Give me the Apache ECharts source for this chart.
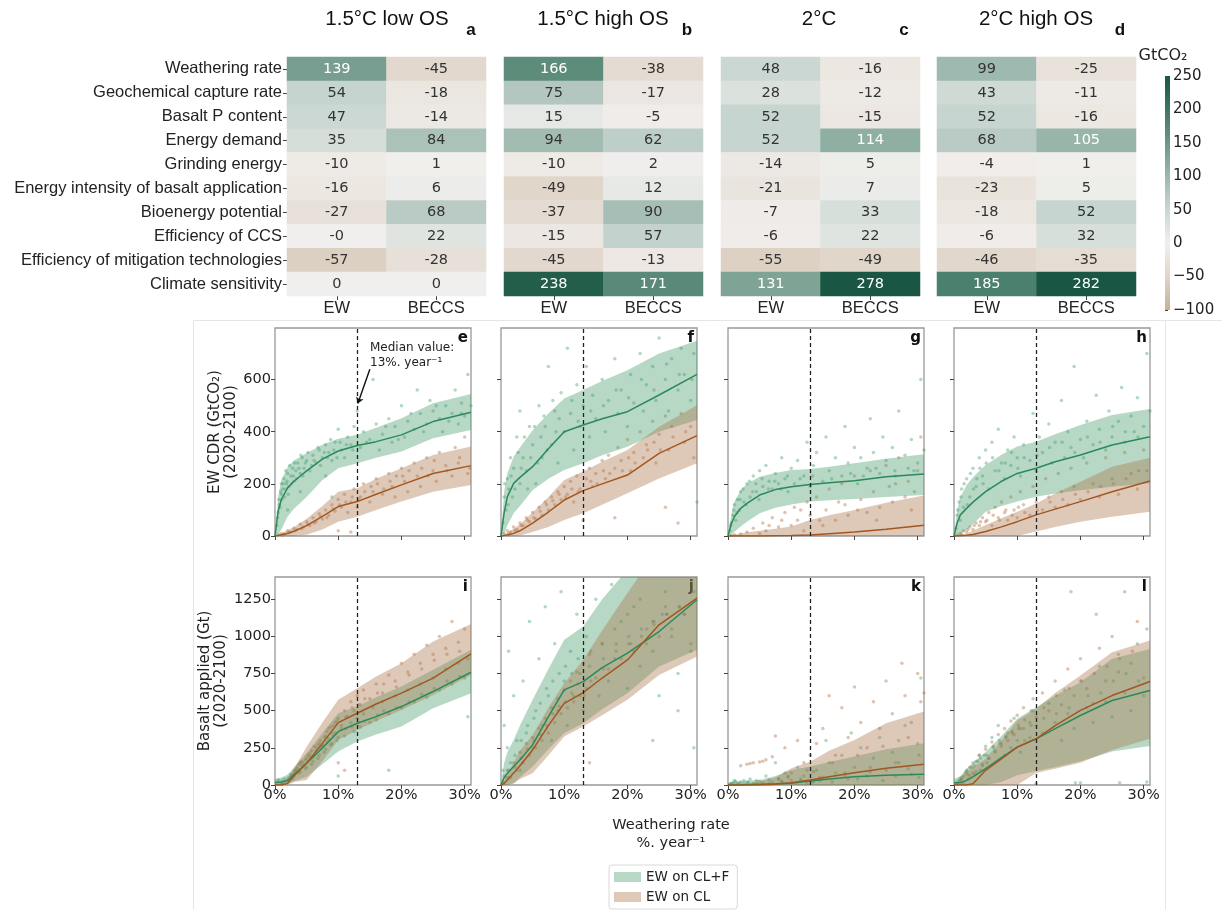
<!DOCTYPE html>
<html><head><meta charset="utf-8">
<script src="https://cdn.jsdelivr.net/npm/echarts@6/dist/echarts.min.js"></script>
<style>html,body{margin:0;padding:0;background:#fff}#c{width:1222px;height:910px}</style>
</head><body><div id="c"></div>
<script>
// ---------------- DATA ----------------
const ROW_LABELS = ['Weathering rate','Geochemical capture rate','Basalt P content','Energy demand','Grinding energy','Energy intensity of basalt application','Bioenergy potential','Efficiency of CCS','Efficiency of mitigation technologies','Climate sensitivity'];
const COL_LABELS = ['EW','BECCS'];
const SCENARIOS = ['1.5°C low OS','1.5°C high OS','2°C','2°C high OS'];
const HEAT_LETTERS = ['a','b','c','d'];
const A_EW = [139,54,47,35,-10,-16,-27,-0,-57,0];
const A_BECCS = [-45,-18,-14,84,1,6,68,22,-28,0];
const B_EW = [166,75,15,94,-10,-49,-37,-15,-45,238];
const B_BECCS = [-38,-17,-5,62,2,12,90,57,-13,171];
const C_EW = [48,28,52,52,-14,-21,-7,-6,-55,131];
const C_BECCS = [-16,-12,-15,114,5,7,33,22,-49,278];
const D_EW = [99,43,52,68,-4,-23,-18,-6,-46,185];
const D_BECCS = [-25,-11,-16,105,1,5,52,32,-35,282];
const CBAR_TICKS = [-100,-50,0,50,100,150,200,250];

const CURVE_X = [0,0.5,1,2,3,5,7.5,10,13,16,20,25,31];
const E_G_LO  = [0,5,25,75,105,150,215,260,279,300,324,375,407];
const E_G_MED = [0,95,140,185,210,250,295,326,347,362,388,439,475];
const E_G_HI  = [0,150,215,265,290,318,350,373,388,415,452,509,545];
const E_B_LO  = [0,0,0,0,0,5,25,55,74,100,132,170,196];
const E_B_MED = [0,2,5,10,18,40,75,113,132,160,196,240,270];
const E_B_HI  = [0,5,10,22,35,66,115,170,183,220,260,311,343];
const F_G_LO  = [0,10,40,87,115,176,220,253,279,310,342,400,445];
const F_G_MED = [0,90,150,202,225,266,335,400,426,450,477,541,620];
const F_G_HI  = [0,170,240,304,340,406,470,528,560,595,636,700,749];
const F_B_LO  = [0,0,0,0,2,15,35,61,87,120,164,221,279];
const F_B_MED = [0,2,4,10,20,49,92,138,174,200,234,317,385];
const F_B_HI  = [0,6,12,28,45,90,150,215,247,285,330,419,502];
const G_G_LO  = [0,5,15,36,55,87,108,121,132,137,142,150,157];
const G_G_MED = [0,45,74,106,125,157,178,189,198,204,212,227,238];
const G_G_HI  = [0,80,130,176,200,227,242,253,257,266,279,296,314];
const G_B_LO  = [0,0,0,0,0,0,0,0,0,0,0,0,0];
const G_B_MED = [0,0,0,0,0,0,1,2,4,9,15,26,41];
const G_B_HI  = [0,3,5,10,14,20,28,36,61,80,100,128,155];
const H_G_LO  = [0,0,5,25,45,93,115,132,151,163,176,189,202];
const H_G_MED = [0,50,81,106,130,170,210,240,260,285,311,349,381];
const H_G_HI  = [0,100,150,196,225,272,312,343,362,390,426,464,487];
const H_B_LO  = [0,0,0,0,0,0,0,0,17,35,55,74,93];
const H_B_MED = [0,0,1,3,6,17,35,55,81,103,132,170,211];
const H_B_HI  = [0,2,5,10,20,42,68,93,125,163,208,266,300];
const I_G_LO  = [0,0,0,5,25,56,140,225,292,340,393,517,618];
const I_G_MED = [15,18,20,30,70,146,250,359,416,460,528,629,759];
const I_G_HI  = [40,45,50,70,120,213,350,483,528,590,663,775,910];
const I_B_LO  = [0,0,0,0,20,34,160,303,371,430,505,606,741];
const I_B_MED = [0,0,0,11,60,146,280,420,483,545,618,719,883];
const I_B_HI  = [0,5,10,40,110,258,420,573,651,730,820,966,1083];
const J_G_LO  = [0,0,0,11,50,124,240,348,416,510,618,797,910];
const J_G_MED = [0,50,79,124,170,270,460,640,696,790,887,1033,1247];
const J_G_HI  = [0,150,220,303,400,573,780,977,1067,1250,1450,1650,1900];
const J_B_LO  = [0,0,0,10,40,79,200,326,393,470,573,741,865];
const J_B_MED = [0,10,34,80,130,236,400,550,622,720,842,1078,1258];
const J_B_HI  = [0,30,70,150,230,337,520,685,842,1040,1292,1600,1900];
const K_G_LO  = [0,0,0,0,0,0,0,0,0,0,0,0,0];
const K_G_MED = [0,0,0,0,2,5,8,12,27,40,56,65,72];
const K_G_HI  = [15,20,25,25,30,34,60,101,124,155,191,240,281];
const K_B_LO  = [0,0,0,0,0,0,0,0,0,0,0,0,0];
const K_B_MED = [0,0,0,0,0,0,5,16,34,55,83,112,139];
const K_B_HI  = [0,2,4,8,12,22,50,112,157,230,303,416,494];
const L_G_LO  = [0,0,0,0,0,0,20,65,95,120,160,225,262];
const L_G_MED = [15,15,15,31,55,110,185,255,311,380,468,569,636];
const L_G_HI  = [40,50,60,110,150,222,330,446,524,600,692,849,916];
const L_B_LO  = [0,0,0,0,0,0,0,0,80,110,150,235,311];
const L_B_MED = [0,0,0,0,9,99,175,255,311,400,502,602,697];
const L_B_HI  = [0,20,40,87,120,177,300,434,513,620,737,894,972];

const E_G_PTS = [[0.3,40],[0.5,90],[0.6,140],[0.8,110],[1,160],[1,200],[1.2,180],[1.4,220],[1.5,150],[1.8,200],[2,240],[2,100],[2.2,190],[2.5,230],[2.8,260],[3,210],[3.3,250],[3.6,280],[4,240],[4,170],[4.3,300],[4.6,260],[5,290],[5.5,250],[6,310],[6.5,280],[7,330],[7.5,300],[8,350],[8,230],[8.5,320],[9,290],[9,150],[9.5,360],[10,410],[10.5,330],[11,300],[11.5,380],[12,350],[12.5,420],[13,480],[13.5,340],[14,400],[15,370],[15.5,600],[16,430],[16.5,330],[17,390],[18,450],[18.5,360],[19,420],[20,500],[20.5,380],[21,440],[22,410],[22.5,560],[23,470],[24,430],[24.5,520],[25,480],[26,450],[26.5,400],[27,500],[28,470],[28.5,560],[29,430],[29.5,510],[30,460],[30.5,620],
  [0.4,70],[0.7,120],[0.9,170],[1.1,140],[1.3,200],[1.6,180],[1.7,250],[1.9,210],[2.1,160],[2.3,270],[2.6,200],[2.9,230],[3.1,280],[3.4,220],[3.8,260],[4.1,310],[4.4,230],[4.8,280],[5.2,320],[5.8,270],[6.2,290],[6.8,340],[7.2,270],[7.8,320],[8.3,300],[8.8,370],[9.3,330],[9.8,300],[10.3,360],[11.3,350],[12.3,330],[14.5,360],[17.5,420],[19.5,370],[21.5,470],[23.5,400],[25.5,500],[27.5,440],[29.5,470],[31,500]];
const E_B_PTS = [[0.5,5],[1,10],[1.5,8],[2,20],[2.5,15],[3,30],[3.5,25],[4,45],[4.5,35],[5,55],[5.5,40],[6,70],[6.5,55],[7,85],[7.5,65],[8,100],[8.5,80],[9,120],[9.5,95],[10,140],[10,20],[10.5,110],[11,160],[11.5,90],[12,130],[12,15],[12.5,180],[13,110],[13.5,150],[14,200],[15,130],[15.5,170],[16,220],[17,160],[18,240],[18.5,190],[19,150],[20,260],[20.5,210],[21,170],[22,280],[22.5,230],[23,190],[24,300],[25,250],[25.5,210],[26,320],[27,270],[28,230],[28.5,340],[29,280],[30,380],[30.5,240],
  [1.2,3],[2.2,12],[3.2,20],[4.2,28],[5.2,45],[6.2,50],[7.2,75],[8.2,70],[9.2,105],[10.2,120],[11.2,130],[12.2,150],[13.2,140],[14.2,170],[15.2,190],[16.2,200],[17.2,180],[18.2,210],[19.2,230],[20.2,230],[21.2,250],[23.2,260],[24.2,230],[25.2,290],[27.2,250],[29.2,300],[30.8,260]];
const F_G_PTS = [[0.3,50],[0.5,150],[0.8,100],[1,220],[1.2,180],[1.5,300],[1.8,150],[2,260],[2.5,380],[3,200],[3,480],[3.5,300],[4,250],[4.5,420],[5,350],[5.5,200],[6,500],[6.5,300],[7,420],[7.5,650],[8,350],[8.5,480],[9,280],[9.5,550],[10,400],[10.5,720],[11,470],[11.5,330],[12,580],[12.5,420],[13,500],[13.5,650],[14,380],[14.5,540],[15,450],[16,600],[16.5,400],[17,520],[18,680],[18.5,470],[19,560],[20,420],[20.5,620],[21,510],[22,700],[22.5,480],[23,580],[24,650],[24.5,520],[25,760],[26,600],[26.5,480],[27,680],[28,560],[28.5,720],[29,620],[30,520],[30.5,700],[31,130],
  [0.6,200],[1.1,120],[1.6,230],[2.2,180],[2.7,320],[3.2,260],[3.7,380],[4.2,180],[4.7,300],[5.3,420],[5.8,280],[6.3,380],[6.8,460],[7.3,330],[8.2,520],[8.7,400],[9.2,450],[11.2,520],[12.2,440],[14.2,480],[16.2,500],[18.2,560],[20.2,530],[22.2,600],[24.2,560],[26.2,660],[28.2,620],[30.2,600]];
const F_B_PTS = [[0.5,10],[1,20],[1.5,15],[2,35],[2.5,25],[3,50],[3.5,40],[4,70],[4.5,55],[5,90],[5.5,65],[6,110],[6.5,80],[7,130],[7.5,100],[8,150],[8.5,120],[9,170],[9.5,140],[10,190],[10.5,160],[11,210],[11.5,130],[12,230],[12.5,180],[13,60],[13.5,220],[14,260],[14.5,190],[15,240],[16,290],[16.5,220],[17,310],[18,260],[18,70],[18.5,340],[19,290],[20,370],[20.5,250],[21,320],[22,400],[22.5,300],[23,350],[24,440],[24.5,280],[25,390],[26,460],[26,110],[26.5,330],[27,420],[28,50],[28.5,470],[29,360],[30,420],[30.5,300],
  [1.2,8],[2.2,20],[3.2,40],[4.2,60],[5.2,70],[6.2,95],[7.2,120],[8.2,135],[9.2,160],[10.2,150],[11.2,180],[12.2,170],[14.2,210],[15.2,200],[16.2,250],[17.2,240],[19.2,250],[20.2,300],[21.2,280],[23.2,330],[24.2,360],[25.2,330],[27.2,380],[29.2,400]];
const G_G_PTS = [[0.3,20],[0.5,50],[0.8,80],[1,120],[1.2,60],[1.5,140],[1.8,100],[2,170],[2.5,130],[3,200],[3.5,150],[4,230],[4.5,170],[5,250],[5.5,190],[6,270],[6.5,210],[7,180],[7.5,240],[8,200],[8.5,300],[9,220],[9.5,170],[10,260],[10.5,200],[11,290],[12,230],[12.5,360],[13,190],[13.5,270],[14,320],[15,210],[15.5,380],[16,250],[17,300],[18,230],[18.5,420],[19,280],[20,340],[20.5,200],[21,300],[22,260],[22.5,450],[23,320],[24,240],[24.5,380],[25,290],[26,340],[26.5,230],[27,480],[28,310],[28.5,260],[29,370],[30,280],[30.5,600],[31,330],
  [0.4,40],[0.9,100],[1.4,90],[1.9,140],[2.4,180],[2.9,120],[3.4,210],[3.9,170],[4.4,200],[4.9,140],[5.4,220],[6.4,180],[7.4,210],[8.4,180],[9.4,230],[11.4,220],[13.4,230],[16.4,220],[19.4,240],[21.4,230],[23.4,260],[26.4,250],[29.4,250]];
const G_B_PTS = [[0.5,2],[1,5],[2,8],[3,15],[4,30],[5,10],[5.5,50],[6,20],[7,70],[8,35],[9,90],[10,40],[10.5,110],[11,60],[12,20],[12.5,130],[13,80],[14,150],[15,40],[15.5,100],[16,180],[17,60],[18,200],[18.5,120],[19,80],[20,230],[21,140],[22,90],[22.5,250],[23,170],[24,110],[25,270],[25.5,190],[26,130],[27,300],[28,150],[28.5,210],[29,100],[30,250],[30.5,380],
  [6.5,40],[8.5,60],[11.5,100],[14.5,60],[17.5,130],[20.5,100],[23.5,60],[26.5,200],[29.5,170]];
const H_G_PTS = [[0.3,30],[0.5,80],[0.8,130],[1,60],[1.2,180],[1.5,110],[2,220],[2.5,150],[3,260],[3.5,190],[4,300],[4.5,230],[5,330],[5.5,180],[6,360],[6.5,250],[7,410],[7.5,280],[8,220],[8.5,330],[9,270],[9.5,380],[10,300],[10.5,230],[11,350],[12,290],[12.5,470],[13,250],[13.5,380],[14,320],[15,430],[15.5,280],[16,360],[17,520],[17.5,300],[18,400],[18.5,340],[19,650],[20,370],[20.5,300],[21,440],[22,350],[22.5,540],[23,410],[24,330],[24.5,480],[25,380],[26,440],[26.5,570],[27,360],[28,460],[28.5,400],[29,530],[30,420],[30.5,700],[31,480],
  [0.6,100],[1.1,150],[1.6,200],[2.1,120],[2.6,240],[3.1,180],[3.6,220],[4.1,260],[4.6,200],[5.1,280],[6.1,300],[7.1,250],[8.1,280],[9.1,320],[10.1,260],[11.1,300],[13.1,310],[15.1,340],[17.1,360],[19.1,320],[21.1,380],[23.1,360],[25.1,420],[27.1,400],[29.1,380]];
const H_B_PTS = [[0.5,5],[1,10],[1.5,20],[2,15],[2.5,35],[3,25],[3.5,50],[4,40],[4.5,70],[5,55],[5.5,90],[6,40],[6.5,110],[7,70],[7.5,130],[8,90],[8.5,60],[9,150],[9.5,100],[10,70],[10.5,170],[11,120],[12,80],[12.5,190],[13,130],[14,100],[14.5,220],[15,150],[16,110],[16.5,240],[17,170],[18,120],[18.5,260],[19,190],[20,140],[21,280],[22,200],[23,150],[24,300],[25,220],[26,160],[27,320],[28,240],[29,180],[30,330],[30.5,250],
  [1.2,5],[2.2,25],[3.2,40],[4.2,55],[5.2,60],[6.2,80],[7.2,60],[8.2,100],[9.2,80],[10.2,110],[11.2,90],[13.2,100],[15.2,130],[17.2,140],[19.2,160],[21.2,170],[23.2,190],[25.2,200],[27.2,220],[29.2,250]];
const I_G_PTS = [[0.3,20],[0.5,35],[1,10],[1.5,40],[2,30],[2.5,70],[3,60],[3.5,110],[4,90],[4.5,150],[5,120],[5.5,190],[6,160],[6.5,230],[7,200],[7.5,270],[8,240],[8.5,310],[9,280],[9.5,350],[10,60],[10,320],[10.5,380],[11,330],[12,420],[12.5,360],[13,450],[13.5,390],[14,480],[15,420],[15.5,520],[16,440],[17,560],[18,100],[18,480],[19,600],[20,520],[21,640],[22,560],[23,680],[24,590],[25,720],[26,640],[27,780],[28,680],[29,820],[30,720],[30.5,460],
  [0.8,25],[1.2,30],[2.2,50],[2.8,40],[3.2,100],[3.8,80],[4.2,130],[4.8,110],[5.2,160],[5.8,140],[6.2,200],[6.8,180],[7.2,250],[7.8,220],[8.2,290],[8.8,270],[9.2,330],[9.8,300],[11.2,380],[12.2,390],[13.2,420],[14.2,430],[16.2,470],[17.2,500],[19.2,520],[21.2,560],[23.2,610],[25.2,650],[27.2,700],[29.2,730]];
const I_B_PTS = [[0.5,5],[1,10],[1.5,20],[2,40],[2.5,60],[3,90],[3.5,120],[4,150],[4.5,130],[5,180],[5.5,210],[6,190],[6.5,250],[7,280],[7.5,260],[8,330],[8.5,380],[9,350],[9.5,420],[10,450],[10,150],[10.5,400],[11,500],[11,100],[11.5,460],[12,560],[12.5,500],[13,600],[13.5,540],[14,640],[15,580],[16,680],[17,620],[18,740],[19,700],[20,820],[21,760],[22,880],[23,820],[24,940],[25,880],[26,1000],[27,920],[28,1100],[29,960],[30,1050],[30.5,850],
  [1.2,5],[2.2,30],[2.8,70],[3.2,100],[3.8,140],[4.2,160],[4.8,170],[5.2,200],[5.8,230],[6.2,260],[6.8,270],[7.2,300],[7.8,320],[8.2,360],[8.8,390],[9.2,400],[9.8,430],[11.2,460],[12.2,520],[13.2,540],[14.2,580],[16.2,620],[17.2,680],[19.2,660],[21.2,740],[23.2,780],[25.2,840],[27.2,880],[29.2,900]];
const J_G_PTS = [[0.3,100],[0.5,400],[0.8,50],[1,250],[1.2,900],[1.5,150],[2,600],[2.5,300],[3,100],[3.5,700],[4,350],[4.5,1100],[5,250],[5.5,500],[6,850],[6.5,400],[7,1200],[7.5,600],[8,300],[8.5,950],[9,500],[9.5,1300],[10,700],[10.5,400],[11,900],[11.5,600],[12,1150],[12.5,750],[13,500],[13.5,1000],[14,800],[15,1250],[15.5,600],[16,950],[17,700],[17.5,1350],[18,850],[19,1100],[20,650],[20.5,950],[21,1200],[22,800],[23,1050],[24,900],[25,600],[25.5,1150],[26,1300],[27,1000],[28,750],[29,1150],[30,900],[30.5,250],
  [1.2,100],[2.2,200],[3.2,300],[4.2,400],[5.2,450],[6.2,550],[7.2,650],[8.2,700],[9.2,750],[10.2,800],[11.2,750],[12.2,850],[13.2,700],[14.2,900],[16.2,850],[18.2,950],[20.2,1000],[22.2,1050],[24.2,1100],[26.2,1150],[28.2,1200]];
const J_B_PTS = [[0.3,20],[0.5,60],[1,100],[1.5,50],[2,150],[2.5,100],[3,220],[3.5,150],[4,280],[4.5,200],[5,320],[5.5,250],[6,380],[6.5,300],[7,450],[7.5,350],[8,520],[8.5,420],[9,580],[9.5,480],[10,640],[10.5,520],[11,700],[11.5,560],[12,760],[12.5,600],[13,820],[13.5,650],[14,880],[14,150],[15,720],[16,950],[17,780],[18,1050],[19,850],[20,1150],[21,900],[22,1250],[23,950],[24,1100],[24,300],[25,1000],[26,1200],[27,1050],[28,500],[29,1150],[30,950],[30.5,1300],
  [1.2,50],[2.2,120],[3.2,180],[4.2,240],[5.2,300],[6.2,340],[7.2,400],[8.2,480],[9.2,530],[10.2,560],[11.2,620],[12.2,680],[13.2,600],[14.2,700],[16.2,780],[18.2,900],[20.2,950],[22.2,1000],[24.2,1080],[26.2,1150],[28.2,1200]];
const K_G_PTS = [[0.5,10],[1,30],[1.5,5],[2,20],[3,15],[3.5,40],[4,10],[5,25],[6,60],[7,20],[7.5,150],[8,40],[9,80],[10,30],[11,120],[12,60],[13,200],[13.5,20],[14,100],[15,50],[15.5,300],[16,150],[17,80],[18,200],[19,40],[19.5,350],[20,120],[21,250],[22,60],[23,180],[24,320],[25,100],[26,220],[27,150],[28,400],[29,70],[30,280],[30.5,720],
  [0.3,5],[0.8,15],[1.2,25],[1.8,10],[2.5,30],[3.2,20],[4.5,30],[5.5,15],[6.5,35],[8.5,25],[9.5,50],[11.5,40],[12.5,10],[14.5,30],[16.5,20],[18.5,60],[20.5,40],[22.5,90],[24.5,30],[26.5,60],[28.5,110],[30.2,50]];
const K_B_PTS = [[1,5],[2,130],[3,140],[4,150],[5,155],[6,170],[7,190],[7.5,330],[8,40],[9,250],[10,80],[11,300],[12,150],[13,450],[13.5,90],[14,280],[15,380],[16,600],[17,200],[18,520],[19,320],[20,660],[21,420],[22,250],[23,560],[24,380],[25,700],[26,480],[27,300],[27.5,820],[28,600],[29,420],[30,750],[30.5,560],[31,620],
  [0.5,3],[1.5,8],[2.5,5],[3.5,145],[4.5,10],[5.5,160],[6.5,8],[8.5,20],[9.5,60],[11.5,30],[12.5,100],[14.5,50],[16.5,150],[18.5,80],[20.5,200],[22.5,120],[24.5,260],[26.5,150],[28.5,320],[30.2,200]];
const L_G_PTS = [[0.5,20],[1,40],[1.5,10],[2,100],[2.5,60],[3,150],[3.5,90],[4,200],[4.5,130],[5,260],[5.5,180],[6,320],[6.5,230],[7,400],[7.5,280],[8,200],[8.5,350],[9,250],[9.5,450],[10,300],[10.5,220],[11,380],[12,320],[12.5,500],[13,10],[13,400],[14,350],[15,550],[16,420],[17,300],[17.5,640],[18,480],[19,380],[20,700],[20,15],[21,520],[22,420],[23,800],[24,560],[25,460],[26,880],[27,620],[28,500],[29,950],[30,600],[30.5,20],
  [0.3,10],[0.8,30],[1.2,50],[1.8,80],[2.2,40],[2.8,120],[3.2,70],[3.8,160],[4.2,100],[4.8,200],[5.2,150],[6.2,250],[7.2,300],[8.2,320],[9.2,350],[10.2,380],[11.2,300],[12.2,400],[14.2,450],[16.2,480],[18.2,520],[19.2,15],[21.2,600],[23.2,620],[25.2,700],[26.2,15],[27.2,750],[29.2,700]];
const L_B_PTS = [[0.5,5],[1,30],[1.5,60],[2,90],[2.5,120],[3,80],[3.5,160],[4,200],[4.5,140],[5,240],[5.5,180],[6,290],[6.5,220],[7,340],[7.5,260],[8,380],[8.5,300],[9,430],[9.5,340],[10,470],[10.5,380],[11,520],[12,420],[12.5,580],[13,460],[14,620],[15,500],[16,700],[17,540],[18,780],[18.5,1300],[19,600],[20,850],[21,650],[22,550],[22.5,1150],[23,920],[24,700],[25,1000],[26,760],[27,1300],[28,820],[29,1100],[30,720],[30.5,1050],
  [1.2,40],[2.2,70],[3.2,130],[4.2,180],[5.2,200],[6.2,260],[7.2,280],[8.2,330],[9.2,360],[10.2,400],[11.2,440],[12.2,500],[14.2,520],[16.2,600],[18.2,650],[20.2,700],[22.2,750],[24.2,800],[26.2,850],[28.2,900]];

const X_TICKS = [0,10,20,30];
const CDR_TICKS = [0,200,400,600];
const BASALT_TICKS = [0,250,500,750,1000,1250];
const MEDIAN_RATE = 13;
const PANEL_LETTERS = ['e','f','g','h','i','j','k','l'];
const SERIES_NAMES = ['EW on CL+F','EW on CL'];

// ---------------- STYLE / LAYOUT ----------------
const CMAP = ['#c6b098','#e0d5c9','#f1efed','#c9d6d1','#9db8ae','#6c9787','#3e7663','#1a5644'];
const GREEN_LINE = '#2a8a58', BROWN_LINE = '#a3561f';
const GREEN_BAND = 'rgba(65,152,102,0.38)', BROWN_BAND = 'rgba(167,112,70,0.38)';
const GREEN_PT = '#3f9e6c', BROWN_PT = '#b06a3a';
const HEAT_LEFT = [287,504,721,937], HEAT_W = 199, HEAT_TOP = 57, HEAT_H = 239;
const TITLE_X = [387,603,819,1036], LETTER_X = [471,687,904,1120];
const PANEL_LEFT = [275,501,728,954], PANEL_W = 196, PANEL_TOP = [328,577], PANEL_H = 208;
const SANS = 'Liberation Sans', DJV = 'DejaVu Sans';

const chart = echarts.init(document.getElementById('c'), null, {renderer:'canvas'});
const grids = [], xAxes = [], yAxes = [], series = [], graphics = [];

// heatmaps
const HEAT = [[A_EW,A_BECCS],[B_EW,B_BECCS],[C_EW,C_BECCS],[D_EW,D_BECCS]];
HEAT.forEach((cols, k) => {
  grids.push({left:HEAT_LEFT[k], top:HEAT_TOP, width:HEAT_W, height:HEAT_H});
  xAxes.push({type:'category', gridIndex:k, data:COL_LABELS, position:'bottom',
    axisLine:{show:false}, splitLine:{show:false},
    axisTick:{show:true, alignWithLabel:true, length:4, lineStyle:{color:'#444'}},
    axisLabel:{fontFamily:SANS, fontSize:16.5, color:'#222', margin:4}});
  yAxes.push({type:'category', gridIndex:k, data:ROW_LABELS, inverse:true,
    axisLine:{show:false}, splitLine:{show:false},
    axisTick:{show:k===0, alignWithLabel:true, length:4, lineStyle:{color:'#444'}},
    axisLabel:{show:k===0, fontFamily:SANS, fontSize:16.5, color:'#222', margin:5}});
  const data = [];
  cols.forEach((vals, ci) => vals.forEach((v, ri) => data.push([ci, ri, v])));
  series.push({type:'heatmap', xAxisIndex:k, yAxisIndex:k, data, emphasis:{disabled:true}, silent:true,
    label:{show:true, formatter:p => {const v = p.value[2]; const s = Object.is(v,-0) ? '-0' : String(v); return (v > 100 ? '{w|' : '{d|') + s + '}';},
      rich:{w:{color:'#ffffff', fontFamily:DJV, fontSize:14.5}, d:{color:'#333333', fontFamily:DJV, fontSize:14.5}}}});
  graphics.push({type:'text', x:TITLE_X[k], y:19, style:{text:SCENARIOS[k], align:'center', verticalAlign:'middle', font:'20.5px "Liberation Sans"', fill:'#111'}});
  graphics.push({type:'text', x:LETTER_X[k], y:30, style:{text:HEAT_LETTERS[k], align:'center', verticalAlign:'middle', font:'bold 17px "Liberation Sans"', fill:'#111'}});
});

// colour bar
grids.push({left:1165, top:76, width:5, height:234});
xAxes.push({type:'value', gridIndex:4, min:0, max:1, show:false});
yAxes.push({type:'value', gridIndex:4, min:CBAR_TICKS[0], max:CBAR_TICKS[CBAR_TICKS.length-1], position:'right',
  axisLine:{show:false}, splitLine:{show:false},
  axisTick:{show:true, length:3, customValues:CBAR_TICKS, lineStyle:{color:'#444'}},
  axisLabel:{customValues:CBAR_TICKS, formatter:v => String(v).replace('-', '\u2212'), fontFamily:DJV, fontSize:15, color:'#222', margin:3}});
series.push({type:'custom', xAxisIndex:4, yAxisIndex:4, silent:true,
  data:[[0, CBAR_TICKS[0], 1, CBAR_TICKS[CBAR_TICKS.length-1]]],
  renderItem:(params, api) => {
    const p0 = api.coord([api.value(0), api.value(1)]);
    const p1 = api.coord([api.value(2), api.value(3)]);
    return {type:'rect', shape:{x:p0[0], y:p1[1], width:p1[0]-p0[0], height:p0[1]-p1[1]},
      style:{fill:new echarts.graphic.LinearGradient(0,1,0,0, CMAP.map((c,i)=>({offset:i/(CMAP.length-1), color:c})))}};
  }});
graphics.push({type:'text', x:1163, y:56, style:{text:'GtCO₂', align:'center', verticalAlign:'middle', font:'16px "DejaVu Sans"', fill:'#222'}});

// scatter / band panels
const PANELS = [
  [E_G_LO,E_G_MED,E_G_HI,E_B_LO,E_B_MED,E_B_HI,E_G_PTS,E_B_PTS],
  [F_G_LO,F_G_MED,F_G_HI,F_B_LO,F_B_MED,F_B_HI,F_G_PTS,F_B_PTS],
  [G_G_LO,G_G_MED,G_G_HI,G_B_LO,G_B_MED,G_B_HI,G_G_PTS,G_B_PTS],
  [H_G_LO,H_G_MED,H_G_HI,H_B_LO,H_B_MED,H_B_HI,H_G_PTS,H_B_PTS],
  [I_G_LO,I_G_MED,I_G_HI,I_B_LO,I_B_MED,I_B_HI,I_G_PTS,I_B_PTS],
  [J_G_LO,J_G_MED,J_G_HI,J_B_LO,J_B_MED,J_B_HI,J_G_PTS,J_B_PTS],
  [K_G_LO,K_G_MED,K_G_HI,K_B_LO,K_B_MED,K_B_HI,K_G_PTS,K_B_PTS],
  [L_G_LO,L_G_MED,L_G_HI,L_B_LO,L_B_MED,L_B_HI,L_G_PTS,L_B_PTS]
];
function bandSeries(gi, lo, hi, color, name) {
  return {type:'custom', name, xAxisIndex:gi, yAxisIndex:gi, clip:true, silent:true, z:3,
    itemStyle:{color}, encode:{x:0, y:[1,2]},
    data:CURVE_X.map((x,i)=>[x, lo[i], hi[i]]),
    renderItem:(params, api) => {
      if (params.dataIndex !== 0) return null;
      const top = CURVE_X.map((x,i)=>api.coord([x, hi[i]]));
      const bot = CURVE_X.map((x,i)=>api.coord([x, lo[i]])).reverse();
      return {type:'polygon', shape:{points:top.concat(bot)}, style:{fill:color}};
    }};
}
PANELS.forEach((P, p) => {
  const gi = 5 + p, row = p < 4 ? 0 : 1, col = p % 4;
  const [gLo,gMed,gHi,bLo,bMed,bHi,gPts,bPts] = P;
  const yTicks = row === 0 ? CDR_TICKS : BASALT_TICKS;
  grids.push({left:PANEL_LEFT[col], top:PANEL_TOP[row], width:PANEL_W, height:PANEL_H, show:true, borderColor:'#999', borderWidth:1.3, backgroundColor:'rgba(0,0,0,0)'});
  xAxes.push({type:'value', gridIndex:gi, min:0, max:31, axisLine:{show:false}, splitLine:{show:false},
    axisTick:{show:true, length:4, customValues:X_TICKS, lineStyle:{color:'#444'}},
    axisLabel:{show:row===1, customValues:X_TICKS, formatter:v => v + '%', fontFamily:DJV, fontSize:14.5, color:'#222', margin:3}});
  yAxes.push({type:'value', gridIndex:gi, min:0, max:row===0 ? 798 : 1400, axisLine:{show:false}, splitLine:{show:false},
    axisTick:{show:true, length:4, customValues:yTicks, lineStyle:{color:'#444'}},
    axisLabel:{show:col===0, customValues:yTicks, formatter:v => String(v), fontFamily:DJV, fontSize:14.5, color:'#222', margin:4},
    name: col===0 ? (row===0 ? 'EW CDR (GtCO₂)\n(2020-2100)' : 'Basalt applied (Gt)\n(2020-2100)') : '',
    nameLocation:'middle', nameRotate:90, nameGap: row===0 ? 34 : 46,
    nameTextStyle:{fontFamily:DJV, fontSize:15, color:'#222', lineHeight:16}});
  series.push({type:'scatter', xAxisIndex:gi, yAxisIndex:gi, data:gPts, symbolSize:3.5, silent:true, z:2, itemStyle:{color:GREEN_PT, opacity:0.4}});
  series.push({type:'scatter', xAxisIndex:gi, yAxisIndex:gi, data:bPts, symbolSize:3.5, silent:true, z:2, itemStyle:{color:BROWN_PT, opacity:0.4}});
  series.push(bandSeries(gi, gLo, gHi, GREEN_BAND, SERIES_NAMES[0]));
  series.push(bandSeries(gi, bLo, bHi, BROWN_BAND, SERIES_NAMES[1]));
  const mlData = [{xAxis:MEDIAN_RATE}];
  if (p === 0) {
    mlData.push([{coord:[15.0, 640], symbol:'none', lineStyle:{type:'solid', color:'#111', width:1.4}},
                 {coord:[13.1, 508], symbol:'arrow', symbolSize:6, lineStyle:{type:'solid', color:'#111', width:1.4}}]);
  }
  series.push({type:'line', xAxisIndex:gi, yAxisIndex:gi, data:CURVE_X.map((x,i)=>[x,gMed[i]]), symbol:'none', silent:true, z:4, clip:true,
    lineStyle:{color:GREEN_LINE, width:1.5}, itemStyle:{color:GREEN_LINE},
    markLine:{silent:true, symbol:'none', label:{show:false}, lineStyle:{type:[4,3], color:'#222', width:1.3}, data:mlData, animation:false}});
  series.push({type:'line', xAxisIndex:gi, yAxisIndex:gi, data:CURVE_X.map((x,i)=>[x,bMed[i]]), symbol:'none', silent:true, z:4, clip:true,
    lineStyle:{color:BROWN_LINE, width:1.5}, itemStyle:{color:BROWN_LINE}});
  graphics.push({type:'text', x:PANEL_LEFT[col]+PANEL_W-3, y:PANEL_TOP[row]+10, style:{text:PANEL_LETTERS[p], align:'right', verticalAlign:'middle', font:'bold 15px "DejaVu Sans"', fill:'#111'}});
});

graphics.push({type:'text', x:370, y:340, style:{text:'Median value:\n13%. year⁻¹', align:'left', verticalAlign:'top', font:'12px "DejaVu Sans"', lineHeight:15, fill:'#222'}});
graphics.push({type:'text', x:671, y:834, style:{text:'Weathering rate\n%. year⁻¹', align:'center', verticalAlign:'middle', font:'14.5px "DejaVu Sans"', lineHeight:18, fill:'#222'}});
graphics.push({type:'line', shape:{x1:193, y1:320.5, x2:1222, y2:320.5}, style:{stroke:'#e6e6e6', lineWidth:1}, silent:true});
graphics.push({type:'line', shape:{x1:193.5, y1:320, x2:193.5, y2:910}, style:{stroke:'#e6e6e6', lineWidth:1}, silent:true});
graphics.push({type:'line', shape:{x1:1165.5, y1:320, x2:1165.5, y2:910}, style:{stroke:'#e6e6e6', lineWidth:1}, silent:true});

chart.setOption({
  animation:false,
  backgroundColor:'#ffffff',
  textStyle:{fontFamily:DJV},
  grid:grids, xAxis:xAxes, yAxis:yAxes,
  visualMap:{type:'continuous', min:CBAR_TICKS[0], max:CBAR_TICKS[CBAR_TICKS.length-1], seriesIndex:[0,1,2,3], show:false, inRange:{color:CMAP}},
  legend:{left:609, top:865, orient:'vertical', icon:'rect', itemWidth:27, itemHeight:10, itemGap:6, selectedMode:false,
    borderColor:'#d9d9d9', borderWidth:1, borderRadius:3, padding:[5,8,5,5],
    textStyle:{fontFamily:DJV, fontSize:13.5, color:'#222', lineHeight:14},
    data:[{name:SERIES_NAMES[0], itemStyle:{color:GREEN_BAND}}, {name:SERIES_NAMES[1], itemStyle:{color:BROWN_BAND}}]},
  graphic:graphics,
  series
});
</script>
</body></html>
